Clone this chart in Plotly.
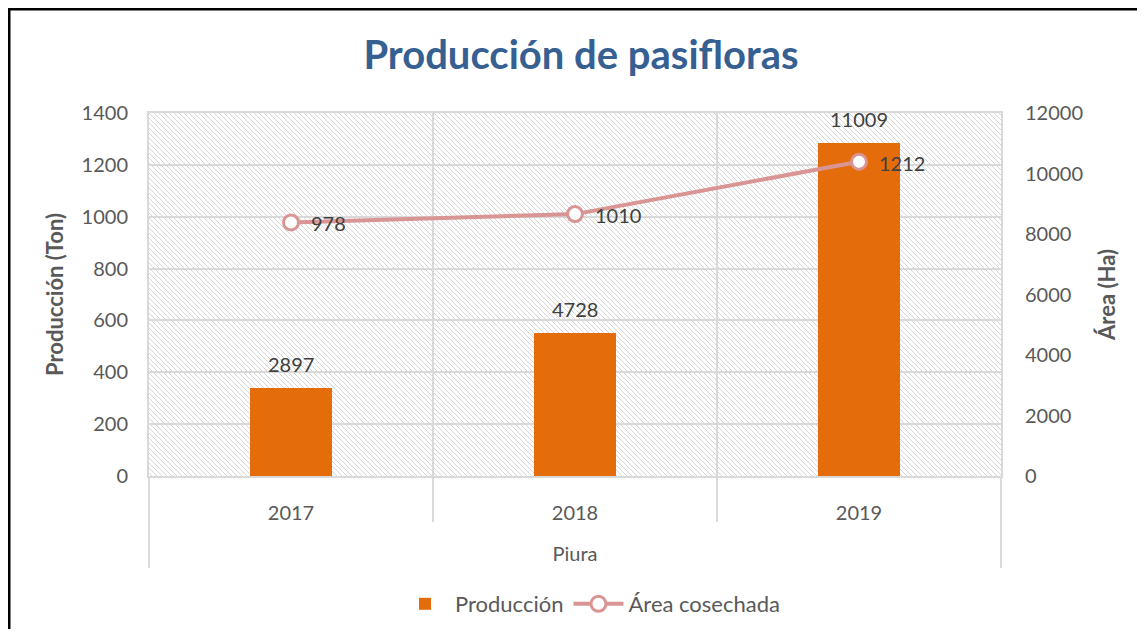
import base64

import plotly.graph_objects as go

years = ["2017", "2018", "2019"]
produccion = [2897, 4728, 11009]
area_cosechada = [978, 1010, 1212]
left_ticks = [0, 200, 400, 600, 800, 1000, 1200, 1400]
right_ticks = [0, 2000, 4000, 6000, 8000, 10000, 12000]

ORANGE = "#E46C0A"
ROSE = "#D99594"
GRID = "#D9D9D9"
TICK = "#595959"
LABEL = "#404040"
FONT = "Lato, Carlito, Calibri, sans-serif"

# the page body has an 8px margin, so the figure starts at page (8, 8)
OFF = 8
W, H = 1129, 621
L, T = 141, 105
PW, PH = 852, 363
R, B = W - L - PW, H - T - PH


def px_x(x):
    return (x - OFF - L) / PW


def px_y(y):
    return (T + PH - (y - OFF)) / PH


# hatched plot-area background (Excel "light downward diagonal")
s = 5
hatch_svg = (
    f'<svg xmlns="http://www.w3.org/2000/svg" width="{PW}" height="{PH}" '
    f'viewBox="0 0 {PW} {PH}" preserveAspectRatio="none">'
    f'<defs><pattern id="h" width="{s}" height="{s}" patternUnits="userSpaceOnUse">'
    f'<path d="M0,0 L{s},{s} M-1,{s-1} L1,{s+1} M{s-1},-1 L{s+1},1" '
    f'stroke="#D6D6D6" stroke-width="1"/></pattern></defs>'
    f'<rect width="100%" height="100%" fill="#FFFFFF"/>'
    f'<rect width="100%" height="100%" fill="url(#h)"/></svg>'
)
hatch_uri = "data:image/svg+xml;base64," + base64.b64encode(hatch_svg.encode()).decode()

fig = go.Figure()

fig.add_trace(
    go.Bar(
        x=years,
        y=produccion,
        name="Producción",
        marker=dict(color=ORANGE, line=dict(width=0)),
        width=0.29,
        yaxis="y",
    )
)
fig.add_trace(
    go.Scatter(
        x=years,
        y=area_cosechada,
        name="Área cosechada",
        mode="lines+markers",
        line=dict(color=ROSE, width=4),
        marker=dict(size=15, color="#FFFFFF", line=dict(color=ROSE, width=3)),
        yaxis="y2",
    )
)

annotations = []
for i, v in enumerate(produccion):
    annotations.append(
        dict(x=i, y=v, xref="x", yref="y", text=str(v), showarrow=False,
             yanchor="bottom", yshift=10, font=dict(size=20, color=LABEL))
    )
for i, v in enumerate(area_cosechada):
    annotations.append(
        dict(x=i, y=v, xref="x", yref="y2", text=str(v), showarrow=False,
             xanchor="left", xshift=18, yshift=-1, font=dict(size=20, color=LABEL))
    )

# category dividers below the plot, and the outer frame of the chart
shapes = []
n = len(years)
for k in range(n + 1):
    bottom = 568 if k in (0, n) else 522
    shapes.append(
        dict(type="line", xref="paper", yref="paper", x0=k / n, x1=k / n,
             y0=0, y1=px_y(bottom), line=dict(color=GRID, width=2))
    )
shapes.append(
    dict(type="line", xref="paper", yref="paper", x0=px_x(8), x1=px_x(1150),
         y0=px_y(9), y1=px_y(9), line=dict(color="#000000", width=3))
)
shapes.append(
    dict(type="line", xref="paper", yref="paper", x0=px_x(9), x1=px_x(9),
         y0=px_y(8), y1=px_y(640), line=dict(color="#000000", width=3))
)

fig.update_layout(
    width=W,
    height=H,
    margin=dict(l=L, r=R, t=T, b=B, autoexpand=False),
    paper_bgcolor="#FFFFFF",
    plot_bgcolor="rgba(0,0,0,0)",
    font=dict(family=FONT, size=20, color=TICK),
    title=dict(
        text="<b>Producción de pasifloras</b>",
        font=dict(family=FONT, size=40, color="#376092"),
        x=px_x(581),
        xref="paper",
        xanchor="center",
        y=1 - (55 - OFF) / H,
        yref="container",
        yanchor="middle",
    ),
    bargap=0,
    showlegend=True,
    legend=dict(
        orientation="h",
        x=px_x(590),
        xanchor="center",
        y=px_y(604),
        yanchor="middle",
        font=dict(size=22, color=TICK),
        itemwidth=50,
        traceorder="normal",
    ),
    xaxis=dict(
        type="category",
        tickson="boundaries",
        showgrid=True,
        gridcolor=GRID,
        gridwidth=2,
        showline=True,
        mirror=True,
        linecolor=GRID,
        linewidth=2,
        ticks="",
        ticklabelstandoff=18,
        tickfont=dict(size=20, color=TICK),
        title=dict(text="Piura", font=dict(size=20, color=TICK), standoff=24),
    ),
    yaxis=dict(
        side="right",
        range=[0, 12000],
        tickvals=right_ticks,
        tickformat="d",
        showgrid=False,
        zeroline=False,
        showline=True,
        mirror=True,
        linecolor=GRID,
        linewidth=2,
        ticks="",
        ticklabelstandoff=18,
        tickfont=dict(size=20, color=TICK),
        title=dict(text="<b>Área (Ha)</b>", font=dict(size=22, color=TICK), standoff=18),
    ),
    yaxis2=dict(
        overlaying="y",
        side="left",
        range=[0, 1400],
        tickvals=left_ticks,
        tickformat="d",
        showgrid=True,
        gridcolor=GRID,
        gridwidth=1.5,
        zeroline=False,
        ticks="",
        ticklabelstandoff=20,
        tickfont=dict(size=20, color=TICK),
        title=dict(text="<b>Producción (Ton)</b>", font=dict(size=22, color=TICK), standoff=11),
    ),
    images=[
        dict(source=hatch_uri, xref="paper", yref="paper", x=0, y=1, sizex=1, sizey=1,
             sizing="stretch", xanchor="left", yanchor="top", layer="below")
    ],
    annotations=annotations,
    shapes=shapes,
)

fig.write_html("out.html")
